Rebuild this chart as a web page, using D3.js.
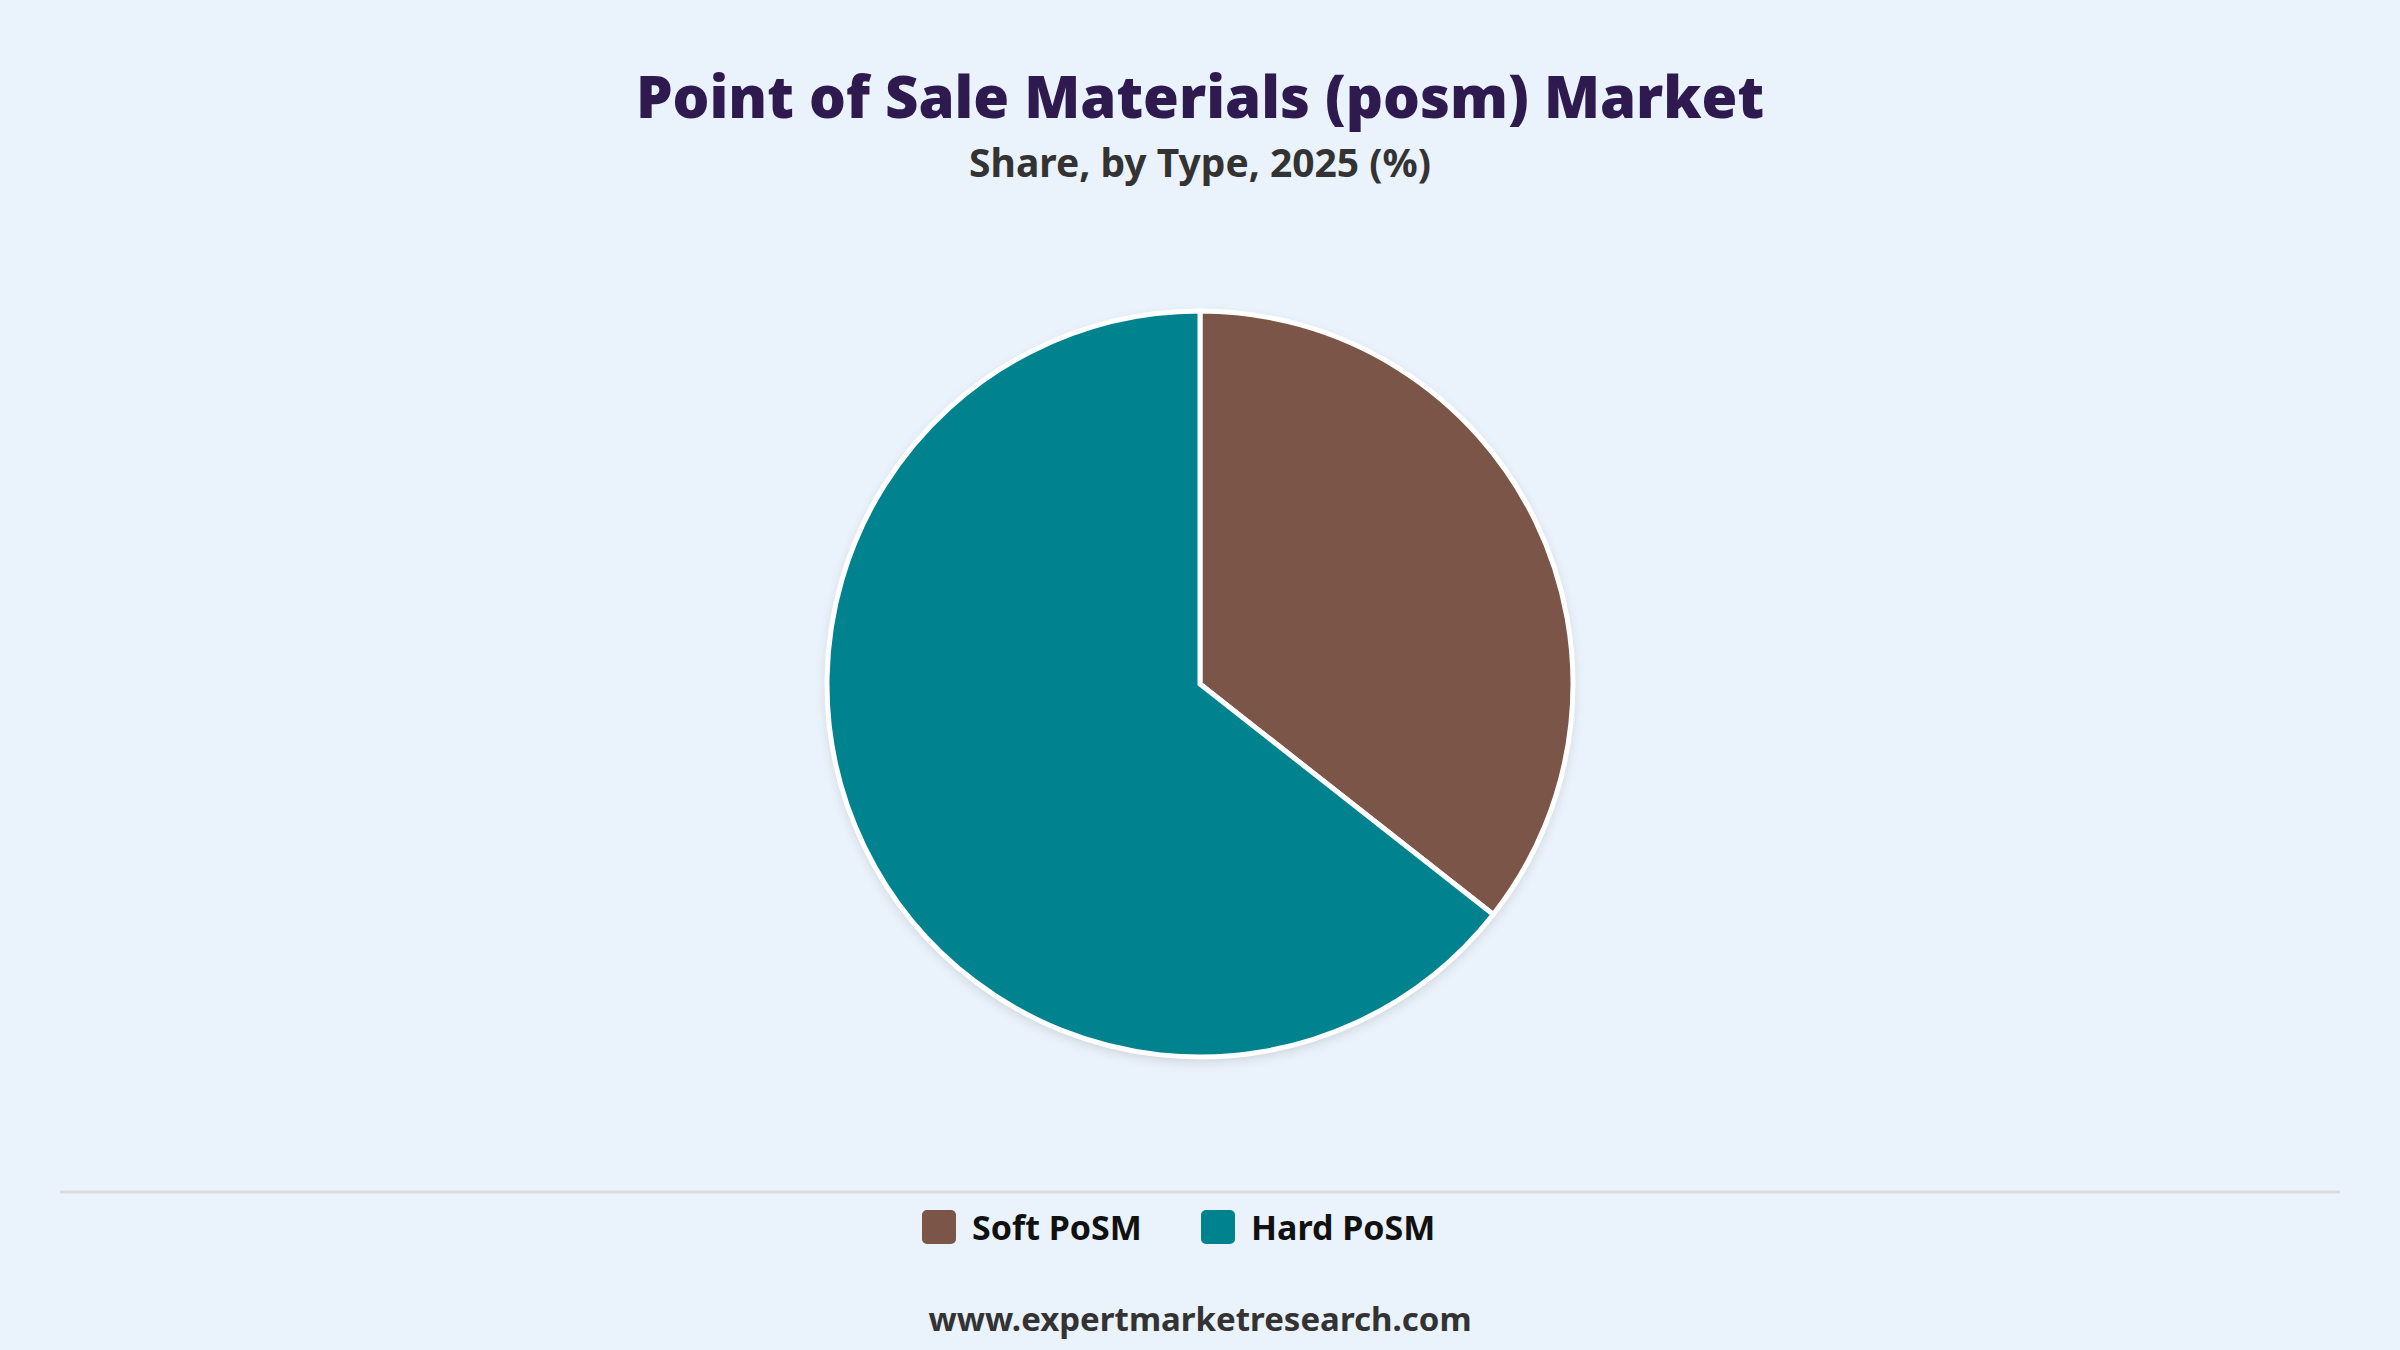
<!DOCTYPE html>
<html>
<head>
<meta charset="utf-8">
<script src="https://cdn.jsdelivr.net/npm/d3@7"></script>
<style>
  body { margin: 0; background: #eaf2fb; }
  svg { display: block; font-family: "Noto Sans", "Open Sans", sans-serif; }
</style>
</head>
<body>
<svg id="chart" width="2400" height="1350"></svg>
<script>
// data
const types = ['Soft PoSM', 'Hard PoSM'];
const shares = [35.6, 64.4];
const colors = ['#7b5547', '#00838f'];

const width = 2400;
const height = 1350;
const svg = d3.select('#chart');

svg.append('rect').attr('width', width).attr('height', height).attr('fill', '#eaf2fb');

const defs = svg.append('defs');
const shadow = defs.append('filter').attr('id', 'shadow')
    .attr('x', '-10%').attr('y', '-10%').attr('width', '120%').attr('height', '120%');
shadow.append('feDropShadow').attr('dx', 0).attr('dy', 4).attr('stdDeviation', 6)
    .attr('flood-color', '#000').attr('flood-opacity', 0.15);

// titles
svg.append('text').attr('x', width / 2).attr('y', 118).attr('text-anchor', 'middle')
    .attr('fill', '#2e1a4f').style('font-size', '58px').style('font-weight', 900)
    .text('Point of Sale Materials (posm) Market');
svg.append('text').attr('x', width / 2).attr('y', 177).attr('text-anchor', 'middle')
    .attr('fill', '#333').style('font-size', '39px').style('font-weight', 700)
    .text('Share, by Type, 2025 (%)');

// pie
const radius = 373;
const g = svg.append('g').attr('transform', `translate(${width / 2},684)`);
const data = types.map((t, i) => ({ type: t, value: shares[i], color: colors[i] }));
const pie = d3.pie().sort(null).value(d => d.value);
const arc = d3.arc().innerRadius(0).outerRadius(radius);

g.append('circle').attr('r', radius).attr('fill', '#fff').attr('filter', 'url(#shadow)');
g.selectAll('.slice')
    .data(pie(data))
    .enter()
    .append('path')
    .classed('slice', true)
    .attr('d', arc)
    .attr('fill', d => d.data.color)
    .attr('stroke', '#fff')
    .attr('stroke-width', 5);

// legend
svg.append('line').attr('x1', 60).attr('x2', 2340).attr('y1', 1192).attr('y2', 1192)
    .attr('stroke', '#d9dde2').attr('stroke-width', 3);

const legendX = [922, 1201];
const legend = svg.selectAll('.legend')
    .data(data)
    .enter()
    .append('g')
    .classed('legend', true)
    .attr('transform', (d, i) => `translate(${legendX[i]},1210)`);
legend.append('rect').attr('width', 34).attr('height', 34).attr('rx', 5)
    .attr('fill', d => d.color);
legend.append('text').attr('x', 50).attr('y', 30)
    .attr('fill', '#111').style('font-size', '34px').style('font-weight', 700)
    .text(d => d.type);

svg.append('text').attr('x', width / 2).attr('y', 1331).attr('text-anchor', 'middle')
    .attr('fill', '#333').style('font-size', '33px').style('font-weight', 700)
    .text('www.expertmarketresearch.com');
</script>
</body>
</html>
